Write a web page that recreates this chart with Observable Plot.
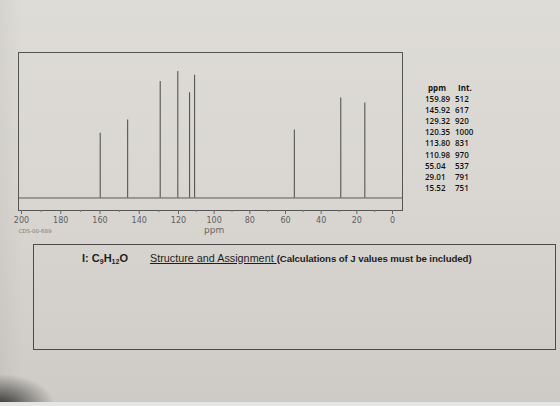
<!DOCTYPE html>
<html><head><meta charset="utf-8">
<script src="https://cdn.jsdelivr.net/npm/d3@7"></script>
<script src="https://cdn.jsdelivr.net/npm/@observablehq/plot@0.6"></script>
<style>
html,body{margin:0;padding:0;}
body{width:560px;height:406px;overflow:hidden;position:relative;
  background:
    radial-gradient(ellipse 55px 32px at 0% 100%, rgba(25,25,25,0.85), rgba(25,25,25,0) 100%),
    linear-gradient(90deg, rgba(0,0,0,0.04), rgba(0,0,0,0) 4%),
    linear-gradient(#dedcd7, #d9d6d1 50%, #cecbc6);
  font-family:"Liberation Sans", Arial, sans-serif;}
#chart{position:absolute;left:0;top:0;}
#strip{position:absolute;left:0;top:402px;width:560px;height:4px;background:#e6e6e4;}
#table{position:absolute;left:425px;top:82px;font-family:"Open Sans", sans-serif;font-size:8px;color:#111;font-weight:600;}
#table .row{position:relative;height:11.1px;line-height:11.1px;white-space:nowrap;}
#table .c1{position:absolute;left:0;}
#table .c2{position:absolute;left:30px;}
#table .hd{font-weight:bold;}
#box{position:absolute;left:33px;top:244px;width:521px;height:104px;border:1px solid #4a4a4a;}
#formula{position:absolute;left:82px;top:252px;font-weight:bold;font-size:11px;color:#1e1e1e;}
#formula sub{font-size:7px;vertical-align:-2px;line-height:0;}
#task{position:absolute;left:150px;top:252px;font-size:10.8px;color:#1e1e1e;white-space:nowrap;}
#task u{font-weight:normal;}
#task b{font-size:9.7px;letter-spacing:-0.1px;}
</style>
</head>
<body>
<div id="chart"></div>
<div id="table"></div>
<div id="box"></div>
<div id="formula">I: C<sub>9</sub>H<sub>12</sub>O</div>
<div id="task"><u>Structure and Assignment </u><b>(Calculations of J values must be included)</b></div>
<div id="strip"></div>
<script>
const ppm = [159.89, 145.92, 129.32, 120.35, 113.80, 110.98, 55.04, 29.01, 15.52];
const intensity = [512, 617, 920, 1000, 831, 970, 537, 791, 751];
const ppmLabels = ["159.89", "145.92", "129.32", "120.35", "113.80", "110.98", "55.04", "29.01", "15.52"];
const majorTicks = [200, 180, 160, 140, 120, 100, 80, 60, 40, 20, 0];
const minorTicks = [190, 170, 150, 130, 110, 90, 70, 50, 30, 10];
const axisTitle = "ppm";
const sampleCode = "CDS-00-689";

const peaks = ppm.map((p, i) => ({ppm: p, int: intensity[i]}));

const chart = Plot.plot({
  width: 560, height: 240,
  marginLeft: 18, marginRight: 158, marginTop: 52, marginBottom: 30,
  style: {background: "transparent", fontFamily: "DejaVu Sans", fontSize: "8px", color: "#5e5e5e", overflow: "visible"},
  x: {type: "linear", domain: [200, 120, 0], range: [21, 178, 392]},
  y: {type: "linear", domain: [-99, 1150], axis: null},
  marks: [
    Plot.frame({stroke: "#555", strokeWidth: 1}),
    Plot.ruleY([0], {stroke: "#5a5a5a", strokeWidth: 1}),
    Plot.ruleX(peaks, {x: "ppm", y1: 0, y2: "int", stroke: "#555", strokeWidth: 1.1}),
    Plot.axisX(minorTicks, {tickSize: 2, text: null, label: null, stroke: "#777"}),
    Plot.axisX(majorTicks, {tickSize: 4, tickPadding: 3, label: null, letterSpacing: 1, stroke: "#666"}),
    Plot.text([axisTitle], {x: () => 100, frameAnchor: "bottom", dy: 22, fontSize: 9, fill: "#666"}),
    Plot.text([sampleCode], {frameAnchor: "bottom-left", textAnchor: "start", dx: 0, dy: 22, fontSize: 5.5, letterSpacing: 0.6, fill: "#777"})
  ]
});
document.getElementById("chart").appendChild(chart);

const table = document.getElementById("table");
const hd = document.createElement("div");
hd.className = "row hd";
hd.innerHTML = '<span class="c1" style="left:3px">ppm</span><span class="c2" style="left:33px">Int.</span>';
table.appendChild(hd);
ppmLabels.forEach((p, i) => {
  const r = document.createElement("div");
  r.className = "row";
  r.innerHTML = `<span class="c1">${p}</span><span class="c2">${intensity[i]}</span>`;
  table.appendChild(r);
});
</script>
</body></html>
